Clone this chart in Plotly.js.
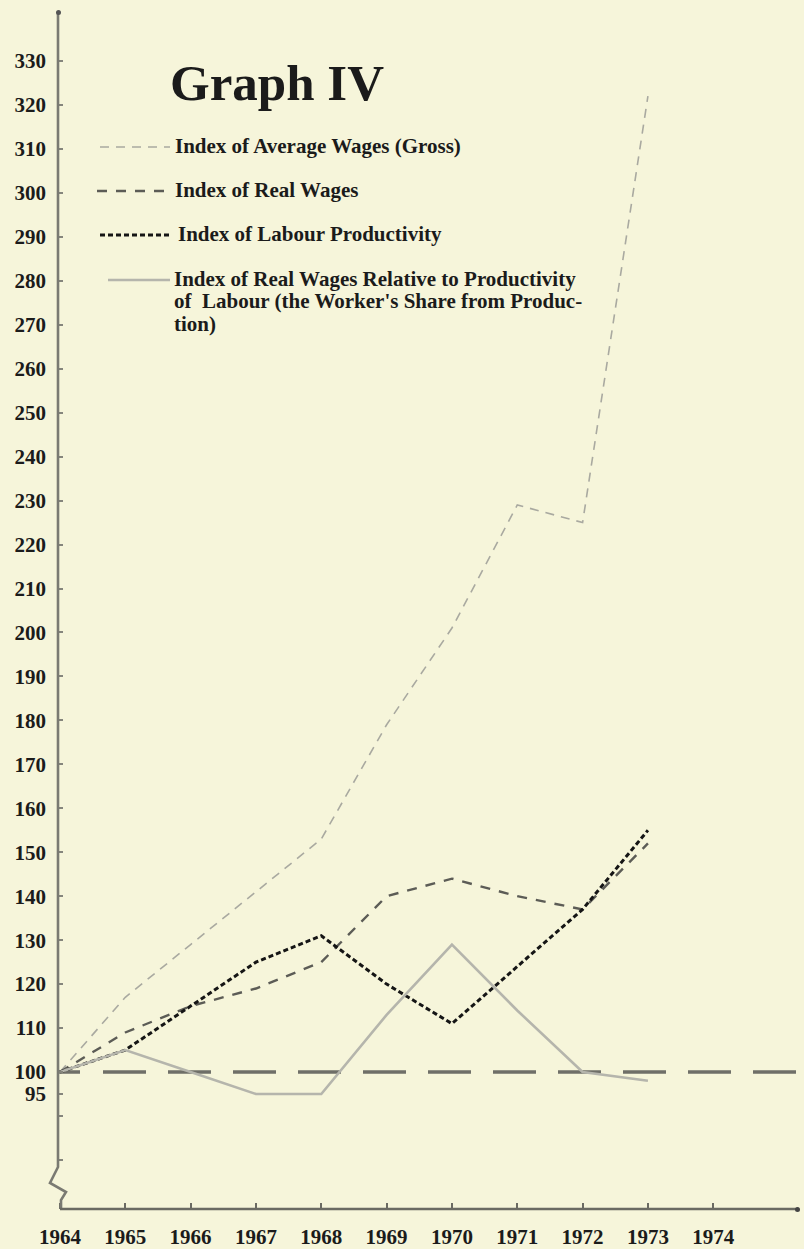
<!DOCTYPE html>
<html>
<head>
<meta charset="utf-8">
<script src="https://cdn.plot.ly/plotly-3.0.1.min.js"></script>
<style>
  html, body { margin: 0; padding: 0; background: #f6f5da; }
  #chart { width: 804px; height: 1249px; }
</style>
</head>
<body>
<div id="chart"></div>
<script>
// ---- data ----
const years = [1964, 1965, 1966, 1967, 1968, 1969, 1970, 1971, 1972, 1973];
const avgWages     = [100, 117, 129, 141, 153, 179, 201, 229, 225, 322];
const realWages    = [100, 109, 115, 119, 125, 140, 144, 140, 137, 152];
const productivity = [100, 105, 115, 125, 131, 120, 111, 124, 137, 155];
const workerShare  = [100, 105, 100, 95, 95, 113, 129, 114, 100, 98];

const seriesNames = [
  "Index of Average Wages (Gross)",
  "Index of Real Wages",
  "Index of Labour Productivity",
  "Index of Real Wages Relative to Productivity<br>of  Labour (the Worker's Share from Produc-<br>tion)"
];
const xTickYears = [1964, 1965, 1966, 1967, 1968, 1969, 1970, 1971, 1972, 1973, 1974];
const yTickVals = [80, 90, 95, 100, 110, 120, 130, 140, 150, 160, 170, 180, 190, 200, 210, 220,
                   230, 240, 250, 260, 270, 280, 290, 300, 310, 320, 330];
const yTickText = ["", "", "95", "100", "110", "120", "130", "140", "150", "160", "170", "180", "190",
                   "200", "210", "220", "230", "240", "250", "260", "270", "280", "290", "300",
                   "310", "320", "330"];
const baseLevel = 100;
const chartTitle = "Graph IV";

// ---- styling ----
const W = 804, H = 1249;
const M = {l: 58, r: 0, t: 12, b: 40};
const PW = W - M.l - M.r, PH = H - M.t - M.b;
const px = x => (x - M.l) / PW;          // pixel -> paper x
const py = y => (H - M.b - y) / PH;      // pixel -> paper y
const BG = "#f6f5da";
const serif = "Liberation Serif, Times New Roman, serif";

const styles = [
  {color: "#a9a9a0", width: 1.6, dash: "9px,7px"},
  {color: "#5c5c56", width: 2.4, dash: "10px,9px"},
  {color: "#151515", width: 3.0, dash: "5px,3px"},
  {color: "#b5b5ac", width: 2.6, dash: "solid"}
];
const seriesData = [avgWages, realWages, productivity, workerShare];

const traces = seriesData.map((ys, i) => ({
  x: years, y: ys, type: "scatter", mode: "lines", name: seriesNames[i],
  line: {color: styles[i].color, width: styles[i].width, dash: styles[i].dash},
  showlegend: false, hoverinfo: "skip"
}));

// dash pattern for the 100 reference line (starts with a half dash at the axis)
let baseDash = ["22px", "23px"];
for (let k = 0; k < 12; k++) { baseDash.push("43px", "22px"); }

const shapes = [
  // reference line at 100
  {type: "line", xref: "paper", yref: "y", x0: 0, x1: 1, y0: baseLevel, y1: baseLevel,
   line: {color: "#6f6f68", width: 3.5, dash: baseDash.join(",")}, layer: "below"},
  // y axis with break
  {type: "path", xref: "paper", yref: "paper",
   path: `M ${px(58)} ${py(12)} L ${px(58)} ${py(1167)} L ${px(50)} ${py(1183)} L ${px(66)} ${py(1192)} L ${px(61)} ${py(1200)} L ${px(61)} ${py(1209)}`,
   line: {color: "#7a7a72", width: 2.6}},
  // x axis
  {type: "line", xref: "paper", yref: "paper", x0: px(60), x1: px(797), y0: py(1209), y1: py(1209),
   line: {color: "#6a6a62", width: 2.4}},
  // end dots
  {type: "circle", xref: "paper", yref: "paper", x0: px(56), x1: px(61), y0: py(10), y1: py(15),
   fillcolor: "#555", line: {width: 0}},
  {type: "circle", xref: "paper", yref: "paper", x0: px(795), x1: px(800), y0: py(1207), y1: py(1212),
   fillcolor: "#444", line: {width: 0}}
];

// legend samples
const legendY = [147, 191, 235, 280];
const legendX0 = [100, 97, 100, 108];
const legendX1 = [170, 170, 172, 170];
const legendTextX = [173, 173, 176, 172];
legendY.forEach((y, i) => {
  shapes.push({type: "line", xref: "paper", yref: "paper",
    x0: px(legendX0[i]), x1: px(legendX1[i]), y0: py(y), y1: py(y),
    line: {color: styles[i].color, width: styles[i].width, dash: styles[i].dash}});
});

const annotations = [];
seriesNames.forEach((name, i) => {
  const lines = name.split("<br>");
  lines.forEach((ln, j) => {
    annotations.push({
      xref: "paper", yref: "paper", x: px(legendTextX[i]), y: py(legendY[i] - 1 + j * 22.5),
      xanchor: "left", yanchor: "middle", showarrow: false, text: ln,
      font: {family: serif, size: 21, color: "#1b1b1b", weight: "bold"}
    });
  });
});

const layout = {
  width: W, height: H,
  margin: M,
  paper_bgcolor: BG, plot_bgcolor: BG,
  showlegend: false,
  title: {text: chartTitle, xref: "paper", x: px(277), xanchor: "center",
          yref: "container", y: 1 - 82 / H, yanchor: "middle",
          font: {family: serif, size: 51, color: "#1b1b1b", weight: "bold"}},
  xaxis: {
    range: [1963.97, 1963.97 + PW / 65.33],
    tickvals: xTickYears, ticktext: xTickYears.map(String),
    ticks: "inside", ticklen: 6, tickwidth: 2, tickcolor: "#6a6a62",
    showline: false, showgrid: false, zeroline: false,
    ticklabelstandoff: 13,
    tickfont: {family: serif, size: 21, color: "#1b1b1b", weight: "bold"}
  },
  yaxis: {
    range: [68.84, 341.15],
    tickvals: yTickVals, ticktext: yTickText,
    ticks: "inside", ticklen: 5, tickwidth: 2, tickcolor: "#85857c",
    showline: false, showgrid: false, zeroline: false,
    ticklabelstandoff: 11,
    tickfont: {family: serif, size: 21, color: "#1b1b1b", weight: "bold"}
  },
  shapes: shapes,
  annotations: annotations
};

Plotly.newPlot("chart", traces, layout, {displayModeBar: false, staticPlot: true});
</script>
</body>
</html>
